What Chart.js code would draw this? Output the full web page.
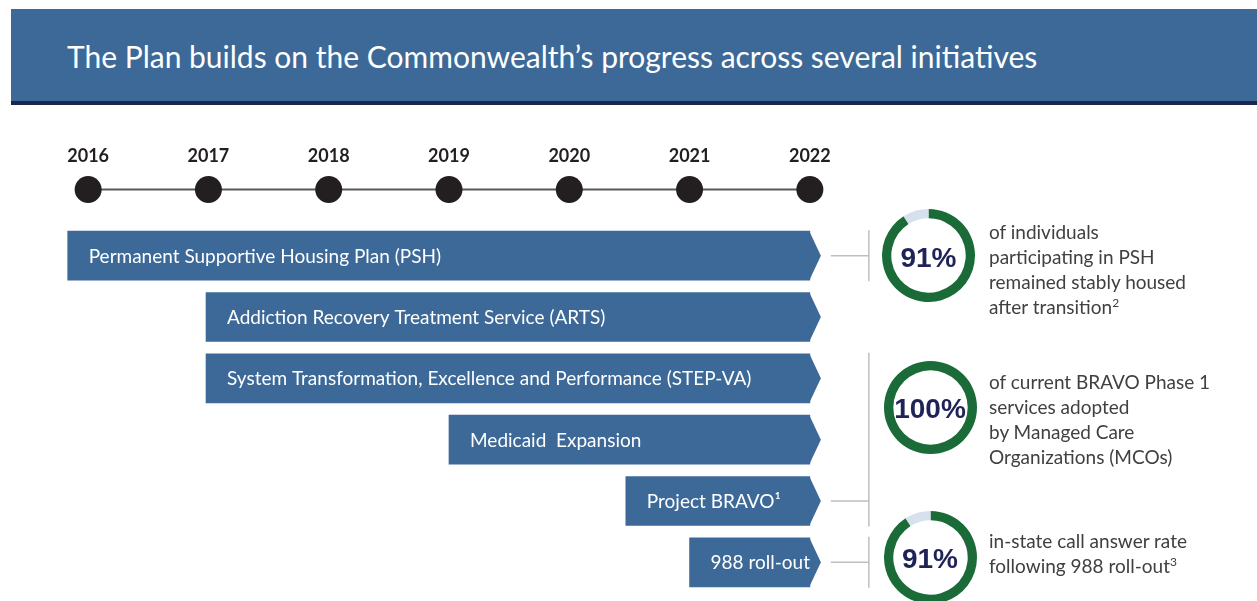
<!DOCTYPE html>
<html lang="en">
<head>
<meta charset="UTF-8">
<title>The Plan builds on the Commonwealth's progress</title>
<script src="https://cdn.jsdelivr.net/npm/chart.js@4.4.1/dist/chart.umd.min.js"></script>
<style>
  body { margin: 0; background: #fff; }
  #page { position: relative; width: 1257px; height: 601px; overflow: hidden; font-family: Lato, sans-serif; }
  #header { position: absolute; left: 11px; top: 9px; width: 1246px; height: 92px; background: #3c6997; border-bottom: 4px solid #1c2550; }
  #title { position: absolute; left: 67px; top: 41px; line-height: 30px; font-size: 30px; color: #fff; white-space: nowrap; }
  canvas { position: absolute; }
  .pct { position: absolute; width: 120px; text-align: center; line-height: 32px; font: bold 28px "Liberation Sans", Arial, sans-serif; color: #1f2358; }
  .note { position: absolute; left: 989px; font-size: 19px; line-height: 25px; color: #404040; white-space: nowrap; }
  .note sup { font-size: 12px; line-height: 0; vertical-align: 7px; }
</style>
</head>
<body>
<div id="page">
  <div id="header"></div>
  <div id="title">The Plan builds on the Commonwealth’s progress across several initiatives</div>
  <canvas id="timeline" width="1257" height="90" style="left:0;top:130px"></canvas>
  <canvas id="bars" width="1257" height="401" style="left:0;top:200px"></canvas>
</div>

<script>
// timeline + initiatives
const years = [2016, 2017, 2018, 2019, 2020, 2021, 2022];
const initiatives = [
  'Permanent Supportive Housing Plan (PSH)',
  'Addiction Recovery Treatment Service (ARTS)',
  'System Transformation, Excellence and Performance (STEP-VA)',
  'Medicaid  Expansion',
  'Project BRAVO¹',
  '988 roll-out'
];
const startYears = [2015.83, 2016.98, 2016.98, 2019, 2020.47, 2021];
const endYears = [2022, 2022, 2022, 2022, 2022, 2022];

// outcome callouts
const outcomePct = [91, 100, 91];
const outcomeText = [
  ['of individuals', 'participating in PSH', 'remained stably housed', 'after transition<sup>2</sup>'],
  ['of current BRAVO Phase 1', 'services adopted', 'by Managed Care', 'Organizations (MCOs)'],
  ['in-state call answer rate', 'following 988 roll-out<sup>3</sup>']
];

const BAR_COLOR = '#3c6997';
const TIP = 11;
const PAD = { left: 28, right: 387 };

// layout of the callouts (page px)
const donutSpots = [{ x: 928.5, y: 255.5 }, { x: 930, y: 407 }, { x: 930, y: 557 }];
const noteTops = [218.5, 369, 528];
// which bar rows each bracket covers, and which row the stub comes from
const brackets = [{ first: 0, last: 0, from: 0 }, { first: 2, last: 4, from: 4 }, { first: 5, last: 5, from: 5 }];

new Chart(document.getElementById('timeline'), {
  type: 'line',
  data: {
    datasets: [{
      data: years.map(y => ({ x: y, y: 0 })),
      borderColor: '#595959',
      borderWidth: 2,
      pointRadius: 13.5,
      pointBackgroundColor: '#231f20',
      pointBorderWidth: 0,
      clip: false
    }]
  },
  options: {
    responsive: false,
    animation: false,
    events: [],
    layout: { padding: { left: PAD.left, right: PAD.right, top: 16, bottom: 16 } },
    scales: {
      x: {
        type: 'linear',
        position: 'top',
        min: 2015.5,
        max: 2022.5,
        grid: { display: false, drawTicks: false },
        border: { display: false },
        afterBuildTicks: axis => { axis.ticks = years.map(v => ({ value: v })); },
        ticks: {
          padding: 8,
          color: '#231f20',
          font: { family: 'Lato', size: 18, weight: 'bold' },
          callback: v => String(v)
        }
      },
      y: { display: false, min: -1, max: 1 }
    },
    plugins: { legend: { display: false }, tooltip: { enabled: false } }
  }
});

// chevron tips + labels on the bars
const arrowBars = {
  id: 'arrowBars',
  afterDatasetsDraw(chart) {
    const ctx = chart.ctx;
    ctx.save();
    chart.getDatasetMeta(0).data.forEach((bar, i) => {
      const { x, y, height, base } = bar.getProps(['x', 'y', 'height', 'base'], true);
      ctx.fillStyle = BAR_COLOR;
      ctx.beginPath();
      ctx.moveTo(x - 0.5, y - height / 2);
      ctx.lineTo(x + TIP, y);
      ctx.lineTo(x - 0.5, y + height / 2);
      ctx.closePath();
      ctx.fill();
      ctx.fillStyle = '#fff';
      ctx.font = '19px Lato';
      ctx.textBaseline = 'middle';
      ctx.fillText(initiatives[i], base + 21, y + 1);
    });
    ctx.restore();
  },
  afterDraw(chart) {
    const ctx = chart.ctx;
    const bars = chart.getDatasetMeta(0).data;
    ctx.save();
    ctx.strokeStyle = '#bfbfbf';
    ctx.lineWidth = 1.5;
    brackets.forEach(b => {
      const src = bars[b.from];
      const x0 = src.x + TIP + 10;
      const xb = src.x + TIP + 48;
      const top = bars[b.first].y - bars[b.first].height / 2 - 1;
      const bottom = bars[b.last].y + bars[b.last].height / 2 + 1;
      ctx.beginPath();
      ctx.moveTo(x0, src.y);
      ctx.lineTo(xb, src.y);
      ctx.moveTo(xb, top);
      ctx.lineTo(xb, bottom);
      ctx.stroke();
    });
    ctx.restore();
  }
};

new Chart(document.getElementById('bars'), {
  type: 'bar',
  data: {
    labels: initiatives,
    datasets: [{
      data: startYears.map((s, i) => [s, endYears[i]]),
      backgroundColor: BAR_COLOR,
      borderWidth: 0,
      barThickness: 49
    }]
  },
  options: {
    indexAxis: 'y',
    responsive: false,
    animation: false,
    events: [],
    layout: { padding: { left: PAD.left, right: PAD.right, top: 25, bottom: 8 } },
    scales: {
      x: { type: 'linear', min: 2015.5, max: 2022.5, display: false },
      y: { display: false }
    },
    plugins: { legend: { display: false }, tooltip: { enabled: false } }
  },
  plugins: [arrowBars]
});

// outcome donuts
const page = document.getElementById('page');
outcomePct.forEach((pct, i) => {
  const spot = donutSpots[i];
  const cv = document.createElement('canvas');
  cv.width = 93;
  cv.height = 93;
  cv.style.left = (spot.x - 46.5) + 'px';
  cv.style.top = (spot.y - 46.5) + 'px';
  page.appendChild(cv);
  new Chart(cv, {
    type: 'doughnut',
    data: {
      datasets: [{
        data: [pct, 100 - pct],
        backgroundColor: ['#1b6b38', '#d6e1ed'],
        borderWidth: 0,
        hoverOffset: 0
      }]
    },
    options: {
      responsive: false,
      animation: false,
      events: [],
      cutout: '80%',
      plugins: { legend: { display: false }, tooltip: { enabled: false } }
    }
  });

  const label = document.createElement('div');
  label.className = 'pct';
  label.textContent = pct + '%';
  label.style.left = (spot.x - 60) + 'px';
  label.style.top = (spot.y - 14) + 'px';
  page.appendChild(label);

  const note = document.createElement('div');
  note.className = 'note';
  note.style.top = noteTops[i] + 'px';
  note.innerHTML = outcomeText[i].join('<br>');
  page.appendChild(note);
});
</script>
</body>
</html>
